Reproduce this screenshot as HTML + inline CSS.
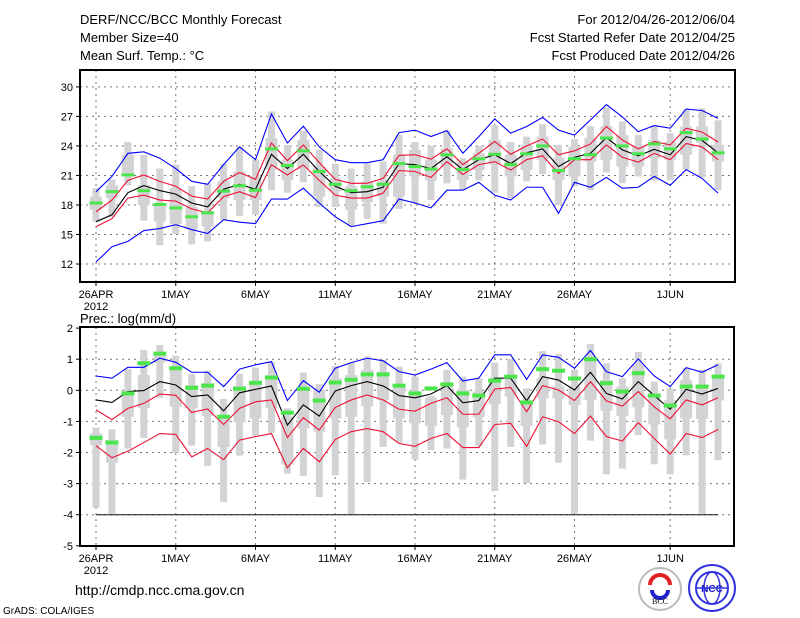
<!DOCTYPE html>
<html><head><meta charset="utf-8"><style>
body{margin:0;background:#fff;}
svg{display:block;font-family:"Liberation Sans",sans-serif;}
</style></head><body>
<svg id="chart" width="800" height="618" viewBox="0 0 800 618">
<rect width="800" height="618" fill="#fff"/>
<g font-size="13" fill="#000">
<text x="80" y="24">DERF/NCC/BCC Monthly Forecast</text>
<text x="80" y="42">Member Size=40</text>
<text x="80" y="60">Mean Surf. Temp.: °C</text>
</g>
<g font-size="13" fill="#000" text-anchor="end">
<text x="735" y="24">For 2012/04/26-2012/06/04</text>
<text x="735" y="42">Fcst Started Refer Date 2012/04/25</text>
<text x="735" y="60">Fcst Produced Date 2012/04/26</text>
</g>
<text x="80" y="323" font-size="13">Prec.: log(mm/d)</text>
<text x="75" y="595" font-size="14">http://cmdp.ncc.cma.gov.cn</text>
<text x="3" y="614" font-size="10">GrADS: COLA/IGES</text>
<g>
<circle cx="660" cy="589" r="21" fill="#fff" stroke="#bbb" stroke-width="2"/>
<path d="M650 585 a10 10 0 1 1 20 0" fill="none" stroke="#d22" stroke-width="4"/>
<path d="M652 590 a8 8 0 0 0 16 0" fill="none" stroke="#22c" stroke-width="4"/>
<text x="660" y="604" font-size="8" text-anchor="middle" font-family="Liberation Serif,serif">BCC</text>
</g>
<g>
<circle cx="712" cy="588" r="23" fill="#fff" stroke="#33d" stroke-width="2"/>
<circle cx="712" cy="588" r="16" fill="none" stroke="#33d" stroke-width="2"/>
<ellipse cx="712" cy="588" rx="8" ry="16" fill="none" stroke="#33d" stroke-width="1.5"/>
<line x1="696" y1="588" x2="728" y2="588" stroke="#33d" stroke-width="1.5"/>
<text x="712" y="592" font-size="10" text-anchor="middle" fill="#22c" font-weight="bold">NCC</text>
</g>
<g id="topPanel"></g>
<g id="botPanel"></g>
</svg>
<script>
const days = 40;
const xLabels = ["26APR","1MAY","6MAY","11MAY","16MAY","21MAY","26MAY","1JUN"];
const xLabelDays = [0,5,10,15,20,25,30,36];
const tTicks = [12,15,18,21,24,27,30];
const pTicks = [-5,-4,-3,-2,-1,0,1,2];
const tMean = [16.3,17.0,19.25,19.97,19.46,19.1,18.2,17.8,19.6,20.1,19.6,23.15,21.7,23.15,21.4,19.9,19.25,19.35,19.8,22.2,22.1,21.7,22.9,21.6,22.6,23.1,22.2,23.3,23.7,21.9,22.85,23.25,24.85,23.6,23.0,23.65,23.1,24.95,24.55,23.3];
const tRedHi = [17.3,18.5,20.5,21.05,20.4,19.9,18.9,18.6,20.4,21.3,20.6,24.3,22.5,24.1,22.3,20.6,20.2,20.2,20.7,23.05,23.1,22.65,23.7,22.1,23.25,24.45,23.15,24.0,24.7,23.1,23.5,24.2,25.97,24.6,23.7,24.45,24.1,25.8,25.4,24.4];
const tRedLo = [15.8,16.6,18.7,19.0,18.5,18.4,17.6,17.2,18.85,19.35,18.75,22.1,21.05,22.07,20.5,19.0,18.7,18.7,19.2,21.5,21.4,20.8,22.4,21.1,22.1,22.4,21.55,22.6,23.0,21.2,22.6,22.6,24.1,22.85,22.35,23.25,22.6,24.25,23.9,22.6];
const tBlueHi = [19.35,20.9,23.25,23.4,22.75,21.7,20.4,20.1,22.1,23.9,22.6,27.25,24.3,26.0,23.9,22.6,22.3,22.3,22.6,25.35,25.6,24.95,25.55,23.25,24.95,26.75,25.3,25.97,26.9,25.6,25.1,26.65,28.2,26.95,25.45,26.07,25.8,27.75,27.6,26.8];
const tBlueLo = [12.2,13.75,14.3,15.4,15.6,16.0,15.5,15.1,16.5,16.25,16.1,18.6,18.6,19.7,18.2,16.8,15.8,16.1,16.4,18.6,18.2,17.7,19.5,19.5,20.3,19.0,18.5,19.8,19.8,17.15,20.3,19.8,20.8,19.7,19.8,20.9,20.0,21.6,20.7,19.2];
const tObs = [18.2,19.35,21.05,19.45,18.05,17.7,16.8,17.2,19.4,19.95,19.5,23.7,22.0,23.5,21.4,20.1,19.45,19.85,20.1,22.2,21.9,21.65,23.1,21.6,22.7,23.15,22.1,23.2,24.0,21.5,22.7,23.1,24.8,24.0,23.2,24.2,23.7,25.35,24.7,23.3];
const tMax = [19.7,20.6,24.4,23.1,21.7,22.1,19.9,20.2,22.2,23.9,22.6,27.5,24.1,25.5,23.6,22.2,21.7,22.2,22.4,25.1,24.4,24.0,25.6,22.75,24.0,26.1,24.4,24.95,26.2,24.1,24.7,26.0,27.9,26.5,25.1,26.1,25.3,27.7,27.8,26.6];
const tMin = [16.3,16.8,20.0,16.4,13.9,15.05,14.0,14.3,16.5,16.9,17.0,19.5,19.25,20.3,17.8,17.8,15.8,16.6,16.1,17.6,18.2,18.5,20.2,19.5,20.5,19.25,18.7,20.4,21.15,18.0,19.9,19.5,21.3,20.2,20.9,20.5,20.5,21.6,20.8,19.5];
const tQ3 = [18.85,20.0,23.1,20.0,18.2,19.7,17.8,17.3,20.4,21.4,20.9,24.8,22.6,24.6,21.9,20.7,19.9,20.4,20.4,23.1,23.6,22.6,23.75,22.4,23.25,24.6,23.1,24.1,24.95,22.75,23.9,24.8,26.0,25.1,23.9,24.6,24.4,25.97,25.97,24.1];
const tQ1 = [17.5,18.7,20.9,18.0,16.3,16.1,15.5,15.8,18.7,18.5,18.5,21.6,20.5,21.6,18.85,19.4,17.5,18.3,18.85,18.85,20.9,20.5,21.9,20.5,21.55,22.1,20.9,21.55,22.6,20.5,20.9,22.4,22.6,21.9,21.9,22.75,22.6,23.1,24.3,22.4];
const pMean = [-0.31,-0.39,-0.04,-0.01,0.28,0.17,-0.2,-0.15,-0.66,-0.08,0.03,0.14,-1.12,-0.47,-0.83,-0.02,0.15,0.28,0.14,-0.17,-0.24,-0.12,0.15,-0.4,-0.33,0.39,0.39,-0.34,0.44,0.33,0.01,0.58,-0.1,-0.28,0.28,-0.17,-0.61,0.03,-0.12,0.06];
const pBlueHi = [0.46,0.39,0.74,0.74,1.03,0.9,0.58,0.58,0.12,0.68,0.82,0.92,-0.33,0.31,-0.06,0.71,0.89,1.03,0.95,0.6,0.49,0.68,0.89,0.3,0.39,1.14,1.14,0.35,1.14,1.06,0.71,1.28,0.6,0.44,1.01,0.46,0.12,0.73,0.58,0.82];
const pRedHi = [-0.63,-0.94,-0.58,-0.42,-0.12,-0.16,-0.71,-0.6,-1.1,-0.58,-0.37,-0.31,-1.52,-0.88,-1.28,-0.55,-0.31,-0.15,-0.31,-0.61,-0.67,-0.42,-0.24,-0.77,-0.77,0.04,0.09,-0.69,0.15,0.01,-0.33,0.28,-0.34,-0.51,-0.04,-0.53,-0.92,-0.31,-0.47,-0.24];
const pRedLo = [-1.78,-2.17,-1.96,-1.68,-1.39,-1.42,-2.14,-1.87,-2.23,-1.6,-1.49,-1.39,-2.49,-1.87,-2.3,-1.58,-1.33,-1.23,-1.33,-1.71,-1.8,-1.55,-1.39,-1.84,-1.84,-1.1,-1.06,-1.8,-0.85,-1.01,-1.39,-0.83,-1.49,-1.63,-1.04,-1.55,-2.05,-1.39,-1.52,-1.26];
const pObs = [-1.53,-1.68,-0.1,0.87,1.18,0.71,0.08,0.15,-0.85,0.05,0.24,0.41,-0.72,0.05,-0.33,0.25,0.34,0.51,0.51,0.15,-0.1,0.06,0.19,-0.1,-0.17,0.31,0.44,-0.39,0.68,0.63,0.38,1.0,0.23,-0.04,0.55,-0.17,-0.49,0.12,0.12,0.44];
const pMax = [-1.2,-1.25,0.68,1.3,1.46,1.11,0.53,0.63,-0.28,0.53,0.73,0.92,-0.58,0.57,0.2,0.78,0.89,1.09,0.98,0.76,0.44,-0.18,0.66,0.44,0.39,0.89,1.01,0.06,1.26,1.16,0.66,1.49,0.87,0.39,1.23,0.28,0.06,0.71,0.66,0.87];
const pMin = [-3.78,-3.97,-1.87,-1.53,-0.24,-2.01,-1.78,-2.43,-3.59,-2.1,-1.46,-1.37,-2.68,-2.75,-3.43,-2.73,-3.99,-2.95,-1.82,-1.69,-2.23,-1.92,-1.87,-2.87,-1.8,-3.24,-1.82,-2.98,-1.74,-2.33,-3.97,-1.62,-2.7,-2.52,-1.44,-2.38,-2.7,-2.09,-3.97,-2.25];
const pQ3 = [-1.39,-1.6,-0.04,0.49,1.19,0.66,0.17,0.23,-0.8,0.14,0.23,0.49,-0.85,0.12,0.01,0.39,0.49,0.66,0.6,0.17,-0.04,-0.24,0.23,0.01,-0.04,0.39,0.44,-0.37,0.39,0.12,0.12,0.98,0.33,0.12,0.82,-0.1,-0.31,0.33,0.17,0.39];
const pQ1 = [-1.76,-2.33,-0.85,-0.58,0.89,-0.53,-0.58,-0.82,-1.82,-1.03,-0.9,-0.58,-2.39,-1.23,-1.33,-0.9,-0.85,-0.51,-0.31,-0.9,-1.06,-1.15,-0.8,-1.19,-0.87,-0.45,-0.2,-1.15,-0.26,-0.26,-0.47,-0.31,-0.66,-0.83,-0.55,-1.1,-1.58,-0.9,-0.92,-0.33];
const pRefLine = -4;

const NS="http://www.w3.org/2000/svg";
function mk(parent,tag,attrs){const e=document.createElementNS(NS,tag);for(const k in attrs)e.setAttribute(k,attrs[k]);parent.appendChild(e);return e;}
const xs = d => 96 + d*15.95;

function panel(g, L, T, R, B, yv, ticks, fmt, series){
  ticks.forEach(t=>{const y=yv(t); if(y>T+2&&y<B-2){const l=mk(g,'line',{x1:L,x2:R,y1:y,y2:y,stroke:'#777','stroke-dasharray':'2,4','stroke-width':1});
  
  }
  const tk=mk(g,'line',{x1:L-4,x2:L,y1:y,y2:y,stroke:'#000'});
  
  
  const tx=mk(g,'text',{x:L-7,y:y+4,'font-size':11,'text-anchor':'end'}); tx.textContent=fmt(t);
  
  });
  xLabelDays.forEach((d,i)=>{const x=xs(d);
    const l=mk(g,'line',{x1:x,x2:x,y1:T,y2:B,stroke:'#777','stroke-dasharray':'2,4'});
    
    
    const tk=mk(g,'line',{x1:x,x2:x,y1:B,y2:B+4,stroke:'#000'});
    
    
    const tx=mk(g,'text',{x:x,y:B+16,'font-size':11,'text-anchor':'middle'}); tx.textContent=xLabels[i];
    
    
    if(i===0){const t2=mk(g,'text',{x:x,y:B+28,'font-size':11,'text-anchor':'middle'});t2.textContent='2012';
    
    }
  });
  for(let d=0;d<days;d++){const x=xs(d);
    const w=mk(g,'rect',{x:x-3.5,y:yv(series.max[d]),width:7,height:yv(series.min[d])-yv(series.max[d]),fill:'#d3d3d6'});
    
    
    const b=mk(g,'rect',{x:x-6,y:yv(series.q3[d]),width:12,height:Math.max(1,yv(series.q1[d])-yv(series.q3[d])),fill:'#d3d3d6'});
    
    
  }
  if(series.ref!==undefined){const l=mk(g,'line',{x1:xs(0),x2:xs(days-1),y1:yv(series.ref),y2:yv(series.ref),stroke:'#112',"stroke-width":1});
    
    }
  const lines=[[series.blueHi,'#0000ff','blue-upper-line'],[series.blueLo,'#0000ff','blue-lower-line'],[series.redHi,'#ee1133','red-upper-line'],[series.redLo,'#ee1133','red-lower-line'],[series.mean,'#000','ensemble-mean-line']];
  lines.forEach(([arr,c,n])=>{if(!arr)return;const p=mk(g,'polyline',{points:arr.map((v,d)=>xs(d)+','+yv(v)).join(' '),fill:'none',stroke:c,'stroke-width':1.1});
    
    });
  for(let d=0;d<days;d++){const o=mk(g,'rect',{x:xs(d)-6.5,y:yv(series.obs[d])-series.oh/2,width:13,height:series.oh,fill:'#4be64b'});
    
    }
  const f=mk(g,'rect',{x:L,y:T,width:R-L,height:B-T,fill:'none',stroke:'#000','stroke-width':2});
  
  
}
const yT = v => 264 - (v-12)*9.84;
const yP = v => 390.3 - v*31.1;
const gTop=document.getElementById('topPanel');


const gBot=document.getElementById('botPanel');


panel(gTop,80,70,735,282,yT,tTicks,t=>String(t),{max:tMax,min:tMin,q3:tQ3,q1:tQ1,blueHi:tBlueHi,blueLo:tBlueLo,redHi:tRedHi,redLo:tRedLo,mean:tMean,obs:tObs,oh:3});
panel(gBot,80,327,734,546,yP,pTicks,t=>String(t),{max:pMax,min:pMin,q3:pQ3,q1:pQ1,blueHi:pBlueHi,redHi:pRedHi,redLo:pRedLo,mean:pMean,obs:pObs,oh:4,ref:pRefLine});
</script>
</body></html>
